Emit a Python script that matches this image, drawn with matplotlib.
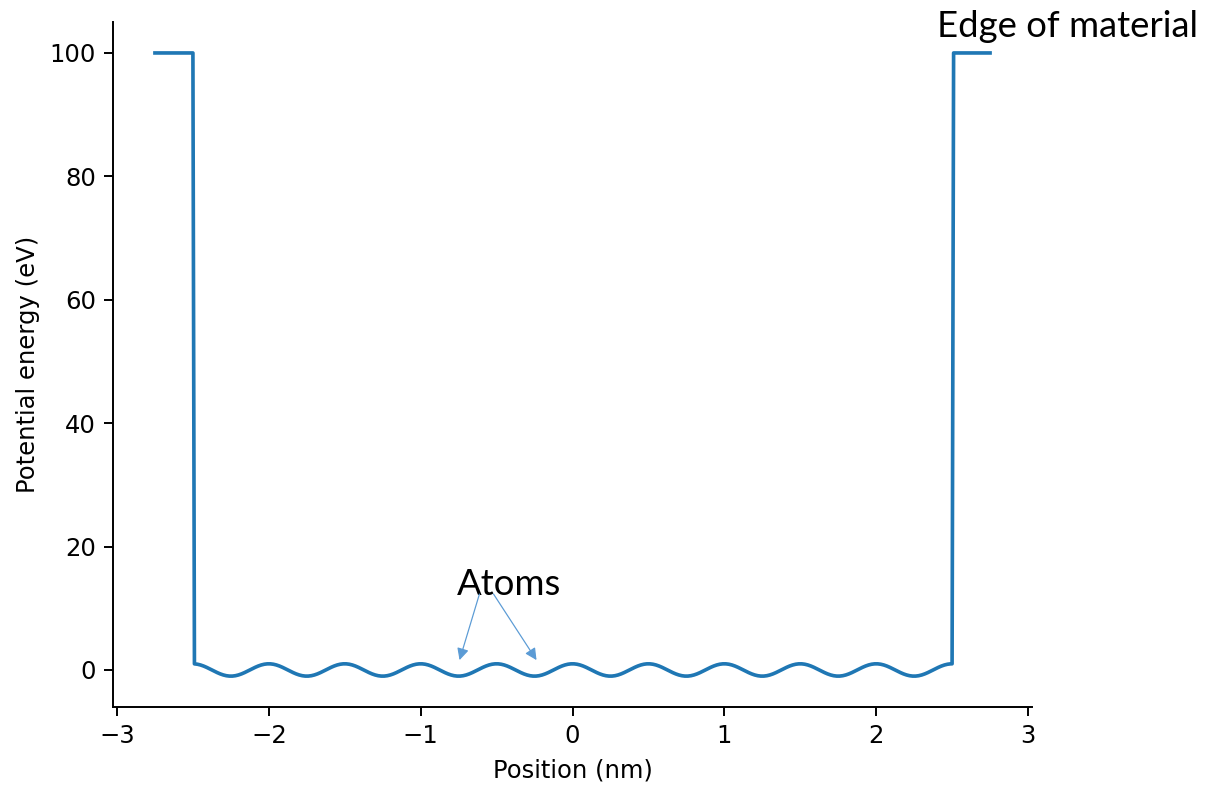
import numpy as np
import matplotlib
matplotlib.use("Agg")
import matplotlib.pyplot as plt

plt.rcParams["font.family"] = ["DejaVu Sans"]

# Potential-well description (nm, eV)
outer_edge = 2.75          # extent of the plotted region on each side
well_half_width = 2.5      # material occupies |x| < 2.5 nm
barrier_height = 100.0     # potential outside the material
atom_spacing = 0.5         # lattice spacing
ripple_amplitude = 1.0     # depth of the periodic atomic potential
sample_step = 0.01

x_ticks = [-3, -2, -1, 0, 1, 2, 3]
y_ticks = [0, 20, 40, 60, 80, 100]

# atoms picked out by the annotation arrows (minima of the ripple)
atom_arrow_tips = [(-0.744, 1.6), (-0.237, 1.6)]
atom_arrow_tails = [(-0.613, 12.3), (-0.520, 12.3)]

position = np.arange(-outer_edge, outer_edge + sample_step / 2, sample_step)
inside = np.abs(position) < well_half_width
potential = np.where(
    inside,
    ripple_amplitude * np.cos(2 * np.pi * position / atom_spacing),
    barrier_height,
)

dpi = 175
fig = plt.figure(figsize=(1205 / dpi, 788 / dpi), dpi=dpi)
ax = fig.add_axes([113.2 / 1205, 1 - 707.3 / 788,
                   (1031.8 - 113.2) / 1205, (707.3 - 21.8) / 788])

ax.plot(position, potential, color="#1f77b4", lw=1.5)

ax.set_xticks(x_ticks)
ax.set_yticks(y_ticks)
ax.set_xlabel("Position (nm)")
ax.set_ylabel("Potential energy (eV)")
ax.spines["top"].set_visible(False)
ax.spines["right"].set_visible(False)

note_font = ["Lato", "DejaVu Sans"]
ax.text(-0.42, 12.2, "Atoms", fontsize=15, family=note_font,
        ha="center", va="baseline")
for tip, tail in zip(atom_arrow_tips, atom_arrow_tails):
    ax.annotate("", xy=tip, xytext=tail,
                arrowprops=dict(arrowstyle="-|>", color="#5b9bd5", lw=0.5,
                                mutation_scale=10, shrinkA=0, shrinkB=0))

fig.text(1198 / 1205, 1 - 37 / 788, "Edge of material", fontsize=15,
         family=note_font, ha="right", va="baseline")

fig.savefig("out.png", dpi=dpi)
